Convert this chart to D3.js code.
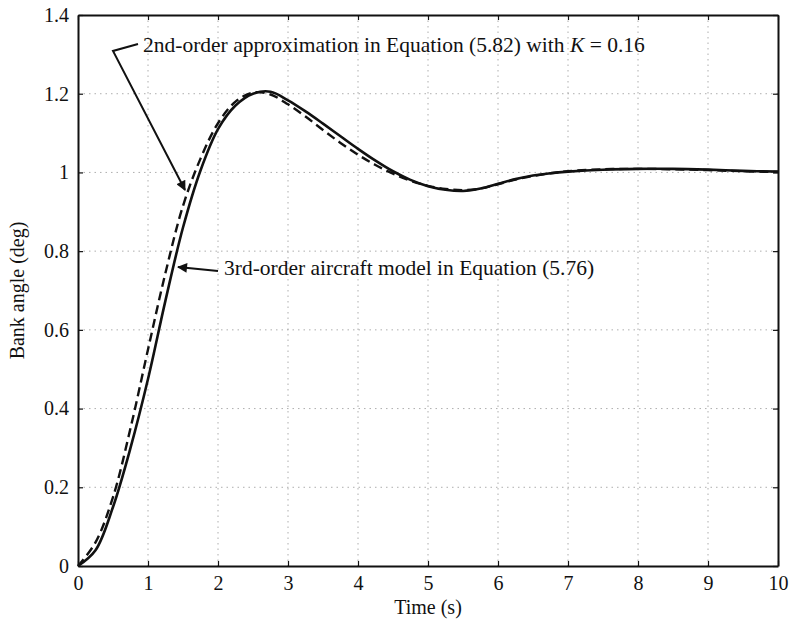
<!DOCTYPE html>
<html><head><meta charset="utf-8">
<script src="https://cdn.jsdelivr.net/npm/d3@7"></script>
<style>
html,body{margin:0;padding:0;background:#fff;}
svg text{font-family:"Times New Roman","Liberation Serif","DejaVu Serif",serif !important;fill:#111;}
</style></head>
<body><svg id="chart" width="790" height="626"></svg>
<script>
// ---- data ----
const time = [0,0.25,0.5,0.75,1,1.25,1.5,1.75,2,2.25,2.5,2.75,3,3.25,3.5,3.75,4,4.25,4.5,4.75,5,5.25,5.5,5.75,6,6.25,6.5,6.75,7,7.5,8,8.5,9,9.5,10];
const thirdOrder = [0,0.04,0.15,0.3,0.475,0.675,0.86,1.005,1.11,1.17,1.2,1.205,1.183,1.155,1.124,1.092,1.06,1.03,1.003,0.981,0.965,0.956,0.953,0.959,0.971,0.983,0.992,0.998,1.002,1.007,1.009,1.009,1.007,1.004,1.002];
const secondOrder = [0,0.06,0.175,0.35,0.55,0.745,0.915,1.035,1.125,1.18,1.203,1.198,1.173,1.142,1.108,1.075,1.045,1.019,0.997,0.979,0.966,0.958,0.955,0.959,0.97,0.982,0.991,0.998,1.003,1.008,1.009,1.008,1.006,1.003,1.001];
const xTicks = [0,1,2,3,4,5,6,7,8,9,10];
const yTicks = [0,0.2,0.4,0.6,0.8,1,1.2,1.4];
const xLabel = "Time (s)";
const yLabel = "Bank angle (deg)";
const note2 = ["2nd-order approximation in Equation (5.82) with ", "K", " = 0.16"];
const note3 = "3rd-order aircraft model in Equation (5.76)";

const FONT = "'Times New Roman','Liberation Serif','DejaVu Serif',serif";
const svg = d3.select("#chart");
const L = 78, R = 778, T = 15, B = 566;
const x = d3.scaleLinear().domain([0,10]).range([L,R]);
const y = d3.scaleLinear().domain([0,1.4]).range([B,T]);

// grid
const g = svg.append("g");
g.selectAll(".gx").data(xTicks.slice(1,-1)).join("line")
  .attr("x1",d=>x(d)).attr("x2",d=>x(d)).attr("y1",T).attr("y2",B)
  .attr("stroke","#999").attr("stroke-width",0.8).attr("stroke-dasharray","1.5,4");
g.selectAll(".gy").data(yTicks.slice(1,-1)).join("line")
  .attr("y1",d=>y(d)).attr("y2",d=>y(d)).attr("x1",L).attr("x2",R)
  .attr("stroke","#999").attr("stroke-width",0.8).attr("stroke-dasharray","1.5,4");

// axes
const fmt = d=> d===0?"0":String(d);
const xa = svg.append("g").attr("transform",`translate(0,${B})`)
  .call(d3.axisBottom(x).tickValues(xTicks).tickFormat(fmt).tickSizeInner(-5).tickSizeOuter(0).tickPadding(10));
const xt = svg.append("g").attr("transform",`translate(0,${T})`)
  .call(d3.axisTop(x).tickValues(xTicks).tickFormat("").tickSizeInner(-5).tickSizeOuter(0));
const ya = svg.append("g").attr("transform",`translate(${L},0)`)
  .call(d3.axisLeft(y).tickValues(yTicks).tickFormat(fmt).tickSizeInner(-5).tickSizeOuter(0).tickPadding(9));
const yr = svg.append("g").attr("transform",`translate(${R},0)`)
  .call(d3.axisRight(y).tickValues(yTicks).tickFormat("").tickSizeInner(-5).tickSizeOuter(0));
[xa,xt,ya,yr].forEach(a=>{
  a.attr("font-family",FONT);
  a.select(".domain").attr("stroke","#111").attr("stroke-width",2);
  a.selectAll(".tick line").attr("stroke","#111").attr("stroke-width",1.2);
  a.selectAll("text").attr("font-family",FONT).attr("font-size",20).attr("fill","#111");
});

// curves
const line = d3.line().x((d,i)=>x(time[i])).y(d=>y(d)).curve(d3.curveCatmullRom);
svg.append("path").attr("d",line(thirdOrder)).attr("fill","none").attr("stroke","#111").attr("stroke-width",2.6);
svg.append("path").attr("d",line(secondOrder)).attr("fill","none").attr("stroke","#111").attr("stroke-width",2.4).attr("stroke-dasharray","9,5");

// labels
svg.append("text").attr("x",(L+R)/2).attr("y",614).attr("text-anchor","middle").attr("font-family",FONT).attr("font-size",20).text(xLabel);
svg.append("text").attr("transform",`translate(24,${(T+B)/2}) rotate(-90)`).attr("text-anchor","middle").attr("font-family",FONT).attr("font-size",20).text(yLabel);

// annotations
const defs = svg.append("defs");
defs.append("marker").attr("id","ah").attr("viewBox","0 0 10 10").attr("refX",9).attr("refY",5)
  .attr("orient","auto-start-reverse").attr("markerUnits","userSpaceOnUse")
  .attr("markerWidth",14).attr("markerHeight",10)
  .append("path").attr("d","M0,0 L10,5 L0,10 z").attr("fill","#111");

svg.append("path").attr("d",`M138,44 L113,51 L185,190`).attr("fill","none").attr("stroke","#111").attr("stroke-width",2).attr("marker-end","url(#ah)");
const t2 = svg.append("text").attr("x",143).attr("y",52).attr("font-family",FONT).attr("font-size",21.5);
t2.append("tspan").text(note2[0]);
t2.append("tspan").attr("font-style","italic").text(note2[1]);
t2.append("tspan").text(note2[2]);

svg.append("path").attr("d",`M218,271 L178,267`).attr("fill","none").attr("stroke","#111").attr("stroke-width",2).attr("marker-end","url(#ah)");
svg.append("text").attr("x",224).attr("y",275).attr("font-family",FONT).attr("font-size",21.5).text(note3);
</script></body></html>
